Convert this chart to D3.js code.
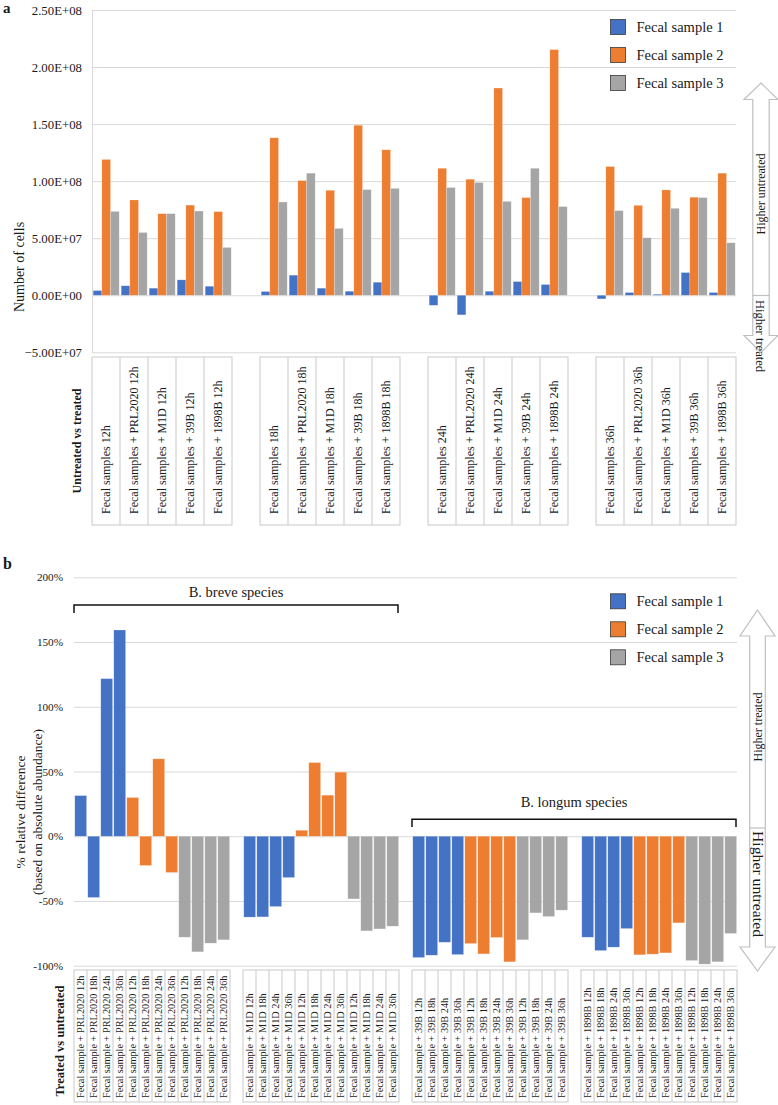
<!DOCTYPE html>
<html><head><meta charset="utf-8">
<script src="https://cdn.jsdelivr.net/npm/d3@7"></script>
<style>html,body{margin:0;padding:0;background:#fff;} svg text{font-family:"Liberation Serif","Tinos","Times New Roman","DejaVu Serif",serif;}</style>
</head><body>
<script>
// ---------- DATA ----------
const seriesNames = ["Fecal sample 1", "Fecal sample 2", "Fecal sample 3"];
const seriesColors = ["#4472c4", "#ed7d31", "#a5a5a5"];

// Panel a
const aGroups = ["12h", "18h", "24h", "36h"];
const aCategories = [
  "Fecal samples 12h", "Fecal samples + PRL2020 12h", "Fecal samples + M1D 12h", "Fecal samples + 39B 12h", "Fecal samples + 1898B 12h",
  "Fecal samples 18h", "Fecal samples + PRL2020 18h", "Fecal samples + M1D 18h", "Fecal samples + 39B 18h", "Fecal samples + 1898B 18h",
  "Fecal samples 24h", "Fecal samples + PRL2020 24h", "Fecal samples + M1D 24h", "Fecal samples + 39B 24h", "Fecal samples + 1898B 24h",
  "Fecal samples 36h", "Fecal samples + PRL2020 36h", "Fecal samples + M1D 36h", "Fecal samples + 39B 36h", "Fecal samples + 1898B 36h"
];
const aSample1 = [4.1e6, 8.3e6, 6.2e6, 1.35e7, 7.9e6, 3.3e6, 1.76e7, 6.2e6, 3.5e6, 1.14e7, -8.8e6, -1.72e7, 3.5e6, 1.2e7, 9.4e6, -3.2e6, 2.4e6, 9e5, 1.99e7, 2.4e6];
const aSample2 = [1.19e8, 8.35e7, 7.15e7, 7.9e7, 7.33e7, 1.38e8, 1.005e8, 9.2e7, 1.49e8, 1.275e8, 1.113e8, 1.017e8, 1.816e8, 8.56e7, 2.153e8, 1.128e8, 7.88e7, 9.23e7, 8.59e7, 1.07e8];
const aSample3 = [7.35e7, 5.5e7, 7.15e7, 7.38e7, 4.19e7, 8.17e7, 1.07e8, 5.86e7, 9.26e7, 9.37e7, 9.44e7, 9.88e7, 8.23e7, 1.113e8, 7.77e7, 7.42e7, 5.04e7, 7.62e7, 8.56e7, 4.6e7];
const aTicks = [-5e7, 0, 5e7, 1e8, 1.5e8, 2e8, 2.5e8];

// Panel b
const bStrains = ["PRL2020", "M1D", "39B", "1898B"];
const bTimes = ["12h", "18h", "24h", "36h"];
// index = strain*4 + time
const bSample1 = [31.4, -47.3, 121.7, 159.3, -62.5, -62.3, -54.3, -31.9, -93.7, -91.9, -81.9, -91.4, -78.0, -88.3, -85.7, -71.3];
const bSample2 = [29.9, -22.6, 59.8, -28.0, 4.6, 56.9, 31.7, 49.5, -82.9, -90.9, -78.2, -97.0, -91.6, -91.1, -90.1, -66.9];
const bSample3 = [-78.0, -89.3, -82.6, -80.0, -48.4, -73.1, -71.6, -69.5, -80.0, -59.2, -62.0, -57.1, -96.0, -98.8, -97.0, -75.1];
const bTicks = [-100, -50, 0, 50, 100, 150, 200];
const bSpecies = [{name: "B. breve species", strains: ["PRL2020", "M1D"]}, {name: "B. longum species", strains: ["39B", "1898B"]}];

// ---------- DRAW ----------
const FONT = '"Liberation Serif","Tinos","Times New Roman","DejaVu Serif",serif';
const W = 778, H = 1105;
const svg = d3.select("body").append("svg").attr("width", W).attr("height", H)
  .attr("font-family", FONT).style("background", "#fff");
const GRID = "#d9d9d9", BOX = "#c9c9c9", ARROW = "#bfbfbf", TXT = "#1a1a1a";

function sciFmt(v) {
  if (v === 0) return "0.00E+00";
  const s = d3.format(".2e")(v);
  const [m, e] = s.split("e");
  const sign = e[0] === "-" ? "-" : "+";
  const ex = Math.abs(+e).toString().padStart(2, "0");
  return m + "E" + sign + ex;
}

function legend(g, x, y0, dy) {
  seriesNames.forEach((n, i) => {
    const y = y0 + i * dy;
    g.append("rect").attr("x", x).attr("y", y - 7.5).attr("width", 15).attr("height", 15)
      .attr("fill", seriesColors[i]).attr("stroke", "#3a3a3a").attr("stroke-width", 0.8);
    g.append("text").attr("x", x + 26).attr("y", y).attr("dy", "0.35em")
      .attr("font-size", 14.5).attr("fill", TXT).text(n);
  });
}

function doubleArrow(g, cx, yTop, headTopBase, yDiv, headBotBase, yBot, hw, sw) {
  const p = d3.path();
  p.moveTo(cx, yTop);
  p.lineTo(cx + hw, headTopBase); p.lineTo(cx + sw, headTopBase);
  p.lineTo(cx + sw, headBotBase); p.lineTo(cx + hw, headBotBase);
  p.lineTo(cx, yBot);
  p.lineTo(cx - hw, headBotBase); p.lineTo(cx - sw, headBotBase);
  p.lineTo(cx - sw, headTopBase); p.lineTo(cx - hw, headTopBase);
  p.closePath();
  g.append("path").attr("d", p.toString()).attr("fill", "#fff").attr("stroke", ARROW).attr("stroke-width", 1.2);
  g.append("line").attr("x1", cx - sw).attr("x2", cx + sw).attr("y1", yDiv).attr("y2", yDiv)
    .attr("stroke", ARROW).attr("stroke-width", 1.2);
}

// ===== Panel a =====
{
  const g = svg.append("g");
  const left = 92, right = 736, top = 10, bottom = 352.3;
  const slots = [];
  aGroups.forEach((gr, gi) => {
    for (let k = 0; k < 5; k++) slots.push(aCategories[gi * 5 + k]);
    if (gi < aGroups.length - 1) slots.push("gap" + gi);
  });
  const x = d3.scaleBand().domain(slots).range([left, right]).padding(0);
  const xs = d3.scaleBand().domain([0, 1, 2]).range([1.2, x.bandwidth() - 0.8]).padding(0);
  const y = d3.scaleLinear().domain([-5e7, 2.5e8]).range([bottom, top]);

  const ax = g.append("g").attr("transform", `translate(${left},0)`)
    .call(d3.axisLeft(y).tickValues(aTicks).tickFormat(sciFmt).tickSizeInner(-(right - left)).tickSizeOuter(0).tickPadding(10));
  ax.attr("font-family", FONT);
  ax.select(".domain").attr("stroke", GRID);
  ax.selectAll(".tick line").attr("stroke", GRID).attr("stroke-width", 1);
  ax.selectAll(".tick text").attr("font-size", 12.8).attr("fill", TXT);

  const series = [aSample1, aSample2, aSample3];
  series.forEach((vals, si) => {
    g.append("g").selectAll("rect").data(vals).join("rect")
      .attr("x", (d, i) => x(aCategories[i]) + xs(si))
      .attr("width", xs.bandwidth())
      .attr("y", d => y(Math.max(0, d)))
      .attr("height", d => Math.abs(y(d) - y(0)))
      .attr("fill", seriesColors[si])
      .attr("stroke", "#fff").attr("stroke-opacity", 0.35).attr("stroke-width", 0.6);
  });

  legend(g, 610.5, 27, 28);

  svg.append("text").attr("transform", "translate(24,267) rotate(-90)").attr("text-anchor", "middle")
    .attr("font-size", 14).attr("fill", TXT).text("Number of cells");
  svg.append("text").attr("x", 3).attr("y", 13).attr("font-size", 15).attr("font-weight", "bold").attr("fill", TXT).text("a");

  const tTop = 357, tBot = 525;
  aGroups.forEach((gr, gi) => {
    const cats = aCategories.slice(gi * 5, gi * 5 + 5);
    const x0 = x(cats[0]), x1 = x(cats[4]) + x.bandwidth();
    g.append("rect").attr("x", x0).attr("y", tTop).attr("width", x1 - x0).attr("height", tBot - tTop)
      .attr("fill", "none").attr("stroke", BOX).attr("stroke-width", 1);
    cats.forEach((c, k) => {
      if (k > 0) g.append("line").attr("x1", x(c)).attr("x2", x(c)).attr("y1", tTop).attr("y2", tBot)
        .attr("stroke", BOX).attr("stroke-width", 1);
      const cx = x(c) + x.bandwidth() / 2;
      g.append("text").attr("transform", `translate(${cx},514) rotate(-90)`).attr("dy", "0.35em")
        .attr("font-size", 12).attr("fill", TXT).text(c);
    });
  });
  svg.append("text").attr("transform", "translate(77,441) rotate(-90)").attr("dy", "0.35em").attr("text-anchor", "middle")
    .attr("font-size", 12).attr("font-weight", "bold").attr("fill", TXT).text("Untreated vs treated");

  doubleArrow(g, 761, 83, 99.5, 295.5, 335.5, 352.5, 17, 8.2);
  g.append("text").attr("transform", "translate(761,194) rotate(-90)").attr("dy", "0.35em").attr("text-anchor", "middle")
    .attr("font-size", 12).attr("fill", TXT).text("Higher untreated");
  g.append("text").attr("transform", "translate(761,300) rotate(90)").attr("dy", "0.35em")
    .attr("font-size", 13.5).attr("textLength", 72).attr("lengthAdjust", "spacingAndGlyphs").attr("fill", TXT).text("Higher treated");
}

// ===== Panel b =====
{
  const g = svg.append("g");
  const left = 74, right = 737, top = 577.3, bottom = 965.7;
  const series = [bSample1, bSample2, bSample3];
  const cats = [];
  const slots = [];
  bStrains.forEach((st, gi) => {
    series.forEach((vals, si) => {
      bTimes.forEach((t, ti) => {
        const key = `s${si}|${st}|${t}`;
        cats.push({key, label: `Fecal sample + ${st} ${t}`, value: vals[gi * 4 + ti], si, strain: st});
        slots.push(key);
      });
    });
    if (gi < bStrains.length - 1) slots.push("gap" + gi);
  });
  const x = d3.scaleBand().domain(slots).range([left, right]).padding(0);
  const y = d3.scaleLinear().domain([-100, 200]).range([bottom, top]);

  const ax = g.append("g").attr("transform", `translate(${left},0)`)
    .call(d3.axisLeft(y).tickValues(bTicks).tickFormat(d => d + "%").tickSizeInner(-(right - left)).tickSizeOuter(0).tickPadding(11));
  ax.attr("font-family", FONT);
  ax.select(".domain").remove();
  ax.selectAll(".tick line").attr("stroke", GRID).attr("stroke-width", 1);
  ax.selectAll(".tick text").attr("font-size", 11.2).attr("fill", TXT);

  g.append("g").selectAll("rect").data(cats).join("rect")
    .attr("x", d => x(d.key) + 0.8)
    .attr("width", x.bandwidth() - 1.2)
    .attr("y", d => y(Math.max(0, d.value)))
    .attr("height", d => Math.abs(y(d.value) - y(0)))
    .attr("fill", d => seriesColors[d.si])
    .attr("stroke", "#fff").attr("stroke-opacity", 0.35).attr("stroke-width", 0.6);

  const brk = [{y: 605, tick: 613, ty: 597}, {y: 819.3, tick: 827, ty: 807}];
  bSpecies.forEach((sp, i) => {
    const first = cats.find(c => c.strain === sp.strains[0]);
    const lastArr = cats.filter(c => c.strain === sp.strains[sp.strains.length - 1]);
    const last = lastArr[lastArr.length - 1];
    const x0 = x(first.key), x1 = x(last.key) + x.bandwidth() - 1;
    g.append("path").attr("d", `M${x0},${brk[i].tick}V${brk[i].y}H${x1}V${brk[i].tick}`)
      .attr("fill", "none").attr("stroke", "#111").attr("stroke-width", 1.5);
    g.append("text").attr("x", (x0 + x1) / 2).attr("y", brk[i].ty).attr("text-anchor", "middle")
      .attr("font-size", 14.5).attr("fill", TXT).text(sp.name);
  });

  legend(g, 610.5, 601.3, 28);

  const yt = svg.append("text").attr("transform", "translate(0,812) rotate(-90)").attr("text-anchor", "middle")
    .attr("font-size", 13.5).attr("fill", TXT);
  yt.append("tspan").attr("x", 0).attr("y", 25).text("% relative difference");
  yt.append("tspan").attr("x", 0).attr("y", 42).text("(based on absolute abundance)");
  svg.append("text").attr("x", 3).attr("y", 569).attr("font-size", 16).attr("font-weight", "bold").attr("fill", TXT).text("b");

  const tTop = 970, tBot = 1102;
  bStrains.forEach((st) => {
    const gc = cats.filter(c => c.strain === st);
    const x0 = x(gc[0].key), x1 = x(gc[gc.length - 1].key) + x.bandwidth();
    g.append("rect").attr("x", x0).attr("y", tTop).attr("width", x1 - x0).attr("height", tBot - tTop)
      .attr("fill", "none").attr("stroke", BOX).attr("stroke-width", 1);
    gc.forEach((c, k) => {
      if (k > 0) g.append("line").attr("x1", x(c.key)).attr("x2", x(c.key)).attr("y1", tTop).attr("y2", tBot)
        .attr("stroke", BOX).attr("stroke-width", 1);
      const cx = x(c.key) + x.bandwidth() / 2;
      g.append("text").attr("transform", `translate(${cx},1098) rotate(-90)`).attr("dy", "0.35em")
        .attr("font-size", 10.3).attr("fill", TXT).text(c.label);
    });
  });
  svg.append("text").attr("transform", "translate(60,1041) rotate(-90)").attr("dy", "0.35em").attr("text-anchor", "middle")
    .attr("font-size", 12.6).attr("font-weight", "bold").attr("fill", TXT).text("Treated vs untreated");

  doubleArrow(g, 757.5, 610, 636, 828, 947, 971, 17.5, 7.8);
  g.append("text").attr("transform", "translate(757.5,727) rotate(-90)").attr("dy", "0.35em").attr("text-anchor", "middle")
    .attr("font-size", 12).attr("fill", TXT).text("Higher treated");
  g.append("text").attr("transform", "translate(757.5,831) rotate(90)").attr("dy", "0.35em")
    .attr("font-size", 14).attr("textLength", 106).attr("lengthAdjust", "spacingAndGlyphs").attr("fill", TXT).text("Higher untreated");
}
</script>
</body></html>
